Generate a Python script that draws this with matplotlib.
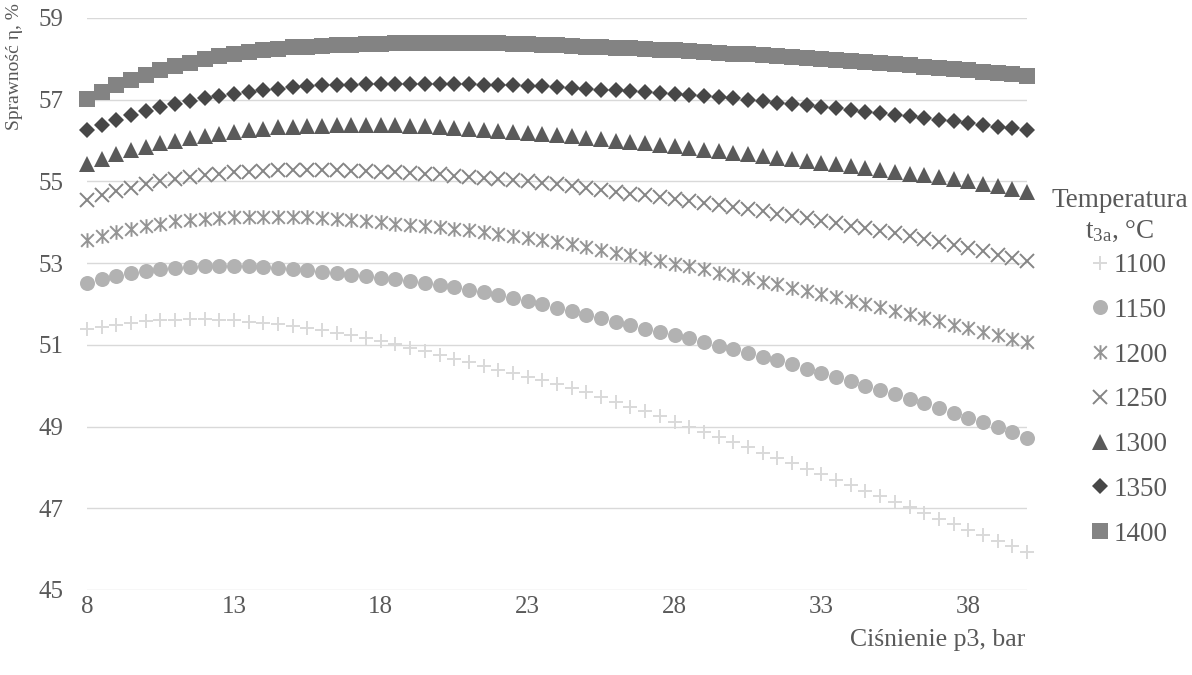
import numpy as np
import matplotlib
matplotlib.use("Agg")
import matplotlib.pyplot as plt
from matplotlib.path import Path

plt.rcParams['font.family'] = ['Liberation Serif', 'DejaVu Serif']
plt.rcParams['mathtext.fontset'] = 'custom'
plt.rcParams['mathtext.rm'] = 'Liberation Serif'
plt.rcParams['mathtext.it'] = 'Liberation Serif:italic'

# pressure p3, bar (every 0.5 bar from 8 to 40)
pressure = np.arange(8, 40.5, 0.5)

eta_1100 = [51.39, 51.44, 51.49, 51.54, 51.58, 51.61, 51.62, 51.63, 51.63, 51.62, 51.60, 51.57, 51.54,
            51.50, 51.45, 51.41, 51.36, 51.30, 51.24, 51.17, 51.09, 51.01, 50.93, 50.84, 50.75, 50.66,
            50.57, 50.48, 50.39, 50.31, 50.22, 50.13, 50.04, 49.94, 49.84, 49.73, 49.61, 49.49, 49.37,
            49.25, 49.12, 49.00, 48.87, 48.75, 48.62, 48.49, 48.36, 48.23, 48.10, 47.97, 47.83, 47.70,
            47.56, 47.43, 47.29, 47.16, 47.02, 46.89, 46.75, 46.61, 46.47, 46.34, 46.20, 46.07, 45.93]
eta_1150 = [52.52, 52.61, 52.69, 52.76, 52.81, 52.86, 52.89, 52.91, 52.92, 52.93, 52.93, 52.92, 52.90,
            52.88, 52.85, 52.82, 52.78, 52.75, 52.71, 52.68, 52.64, 52.60, 52.56, 52.52, 52.47, 52.41,
            52.35, 52.29, 52.22, 52.15, 52.08, 52.00, 51.91, 51.82, 51.74, 51.65, 51.57, 51.49, 51.40,
            51.32, 51.24, 51.16, 51.07, 50.98, 50.89, 50.80, 50.71, 50.62, 50.52, 50.42, 50.32, 50.21,
            50.11, 50.00, 49.90, 49.79, 49.68, 49.57, 49.45, 49.34, 49.22, 49.10, 48.98, 48.86, 48.73]
eta_1200 = [53.57, 53.67, 53.76, 53.84, 53.91, 53.97, 54.02, 54.06, 54.09, 54.11, 54.13, 54.14, 54.14,
            54.14, 54.13, 54.12, 54.10, 54.08, 54.05, 54.03, 54.00, 53.97, 53.94, 53.91, 53.88, 53.84,
            53.80, 53.76, 53.72, 53.67, 53.62, 53.57, 53.52, 53.46, 53.39, 53.33, 53.26, 53.19, 53.13,
            53.06, 52.99, 52.92, 52.85, 52.77, 52.70, 52.63, 52.55, 52.48, 52.40, 52.32, 52.24, 52.16,
            52.08, 52.00, 51.92, 51.83, 51.75, 51.66, 51.58, 51.49, 51.41, 51.32, 51.23, 51.15, 51.06]
eta_1250 = [54.55, 54.66, 54.76, 54.85, 54.93, 55.00, 55.06, 55.11, 55.15, 55.19, 55.22, 55.24, 55.26,
            55.27, 55.28, 55.28, 55.27, 55.27, 55.26, 55.25, 55.24, 55.22, 55.20, 55.19, 55.17, 55.14,
            55.12, 55.09, 55.06, 55.03, 55.00, 54.96, 54.93, 54.89, 54.84, 54.80, 54.75, 54.70, 54.66,
            54.61, 54.56, 54.51, 54.47, 54.42, 54.37, 54.32, 54.27, 54.21, 54.16, 54.10, 54.04, 53.98,
            53.92, 53.86, 53.79, 53.73, 53.66, 53.59, 53.52, 53.44, 53.37, 53.29, 53.21, 53.13, 53.05]
eta_1300 = [55.43, 55.56, 55.67, 55.77, 55.85, 55.93, 56.00, 56.06, 56.12, 56.17, 56.22, 56.26, 56.29,
            56.32, 56.34, 56.35, 56.36, 56.37, 56.37, 56.38, 56.37, 56.37, 56.36, 56.35, 56.33, 56.31,
            56.29, 56.27, 56.24, 56.22, 56.19, 56.17, 56.14, 56.11, 56.07, 56.04, 56.00, 55.97, 55.93,
            55.90, 55.86, 55.82, 55.78, 55.74, 55.70, 55.66, 55.62, 55.58, 55.54, 55.50, 55.46, 55.42,
            55.37, 55.33, 55.28, 55.24, 55.19, 55.15, 55.10, 55.05, 55.00, 54.94, 54.88, 54.82, 54.75]
eta_1350 = [56.26, 56.39, 56.51, 56.62, 56.72, 56.81, 56.89, 56.96, 57.03, 57.09, 57.14, 57.19, 57.23,
            57.27, 57.30, 57.33, 57.35, 57.36, 57.37, 57.38, 57.38, 57.39, 57.39, 57.39, 57.39, 57.38,
            57.38, 57.37, 57.36, 57.35, 57.34, 57.33, 57.31, 57.29, 57.27, 57.25, 57.23, 57.21, 57.19,
            57.16, 57.14, 57.12, 57.09, 57.06, 57.03, 57.00, 56.97, 56.93, 56.90, 56.86, 56.83, 56.79,
            56.75, 56.71, 56.67, 56.63, 56.59, 56.55, 56.51, 56.47, 56.43, 56.38, 56.34, 56.30, 56.25]
eta_1400 = [57.02, 57.20, 57.36, 57.49, 57.61, 57.72, 57.82, 57.91, 57.99, 58.06, 58.12, 58.17, 58.21,
            58.25, 58.28, 58.30, 58.32, 58.34, 58.35, 58.36, 58.37, 58.38, 58.38, 58.39, 58.39, 58.39,
            58.39, 58.39, 58.38, 58.37, 58.36, 58.35, 58.33, 58.32, 58.30, 58.29, 58.27, 58.26, 58.24,
            58.22, 58.21, 58.19, 58.17, 58.15, 58.13, 58.11, 58.09, 58.07, 58.05, 58.03, 58.00, 57.98,
            57.95, 57.92, 57.90, 57.87, 57.84, 57.81, 57.78, 57.75, 57.72, 57.69, 57.65, 57.62, 57.58]

labels = ['1100', '1150', '1200', '1250', '1300', '1350', '1400']
x_ticks = [8, 13, 18, 23, 28, 33, 38]
y_ticks = [45, 47, 49, 51, 53, 55, 57, 59]

# Excel-like "star" marker: an x with a vertical bar
star = Path([(-1, -1), (1, 1), (-1, 1), (1, -1), (0, -1.15), (0, 1.15)],
            [Path.MOVETO, Path.LINETO, Path.MOVETO, Path.LINETO, Path.MOVETO, Path.LINETO])

styles = [
    dict(marker='+', markersize=10.5, mew=1.4, color='#d9d9d9'),
    dict(marker='o', markersize=10.8, mew=0, color='#b2b2b2'),
    dict(marker=star, markersize=10.5, mew=1.4, color='#949494'),
    dict(marker='x', markersize=10.5, mew=1.4, color='#858585'),
    dict(marker='^', markersize=11, mew=0, color='#5a5a5a'),
    dict(marker='D', markersize=8, mew=0, color='#474747'),
    dict(marker='s', markersize=11.5, mew=0, color='#838383'),
]
series = [eta_1100, eta_1150, eta_1200, eta_1250, eta_1300, eta_1350, eta_1400]
txt = '#595959'

fig = plt.figure(figsize=(11.92, 6.75), dpi=100)
ax = fig.add_axes([87 / 1192, 1 - 590 / 675, 940 / 1192, 572 / 675])

for vals, lab, st in zip(series, labels, styles):
    ax.plot(pressure, vals, linestyle='none', label=lab, clip_on=False, zorder=3, **st)

ax.set_xlim(8, 40)
ax.set_ylim(45, 59)
ax.set_xticks(x_ticks)
ax.set_yticks(y_ticks)
ax.grid(axis='y', color='#d9d9d9', linewidth=1.0)
ax.set_axisbelow(True)
for s in ax.spines.values():
    s.set_visible(False)
ax.tick_params(length=0, labelsize=18, colors=txt)
ax.tick_params(axis='x', pad=4)
ax.tick_params(axis='y', pad=17)

fig.text(15 / 1192, 1 - 3 / 675, 'Sprawność η, %', rotation=90, ha='center', va='top',
         fontsize=14, color=txt)
fig.text(1025 / 1192, 1 - 646 / 675, 'Ciśnienie p3, bar', ha='right', va='baseline',
         fontsize=18.5, color=txt)

# legend title as two centred lines
fig.text(1120 / 1192, 1 - 207 / 675, 'Temperatura', ha='center', va='baseline',
         fontsize=19.5, color=txt)
fig.text(1120 / 1192, 1 - 238 / 675, 't$_\\mathrm{3a}$, °C', ha='center', va='baseline',
         fontsize=19.5, color=txt)

leg = ax.legend(loc='upper left', bbox_to_anchor=(1092 / 1192, 1 - 253 / 675),
                bbox_transform=fig.transFigure, frameon=False, fontsize=19.5,
                labelcolor=txt, handlelength=0.6, handletextpad=0.2, labelspacing=0.73,
                borderpad=0, borderaxespad=0)

fig.savefig('out.png', dpi=100)
